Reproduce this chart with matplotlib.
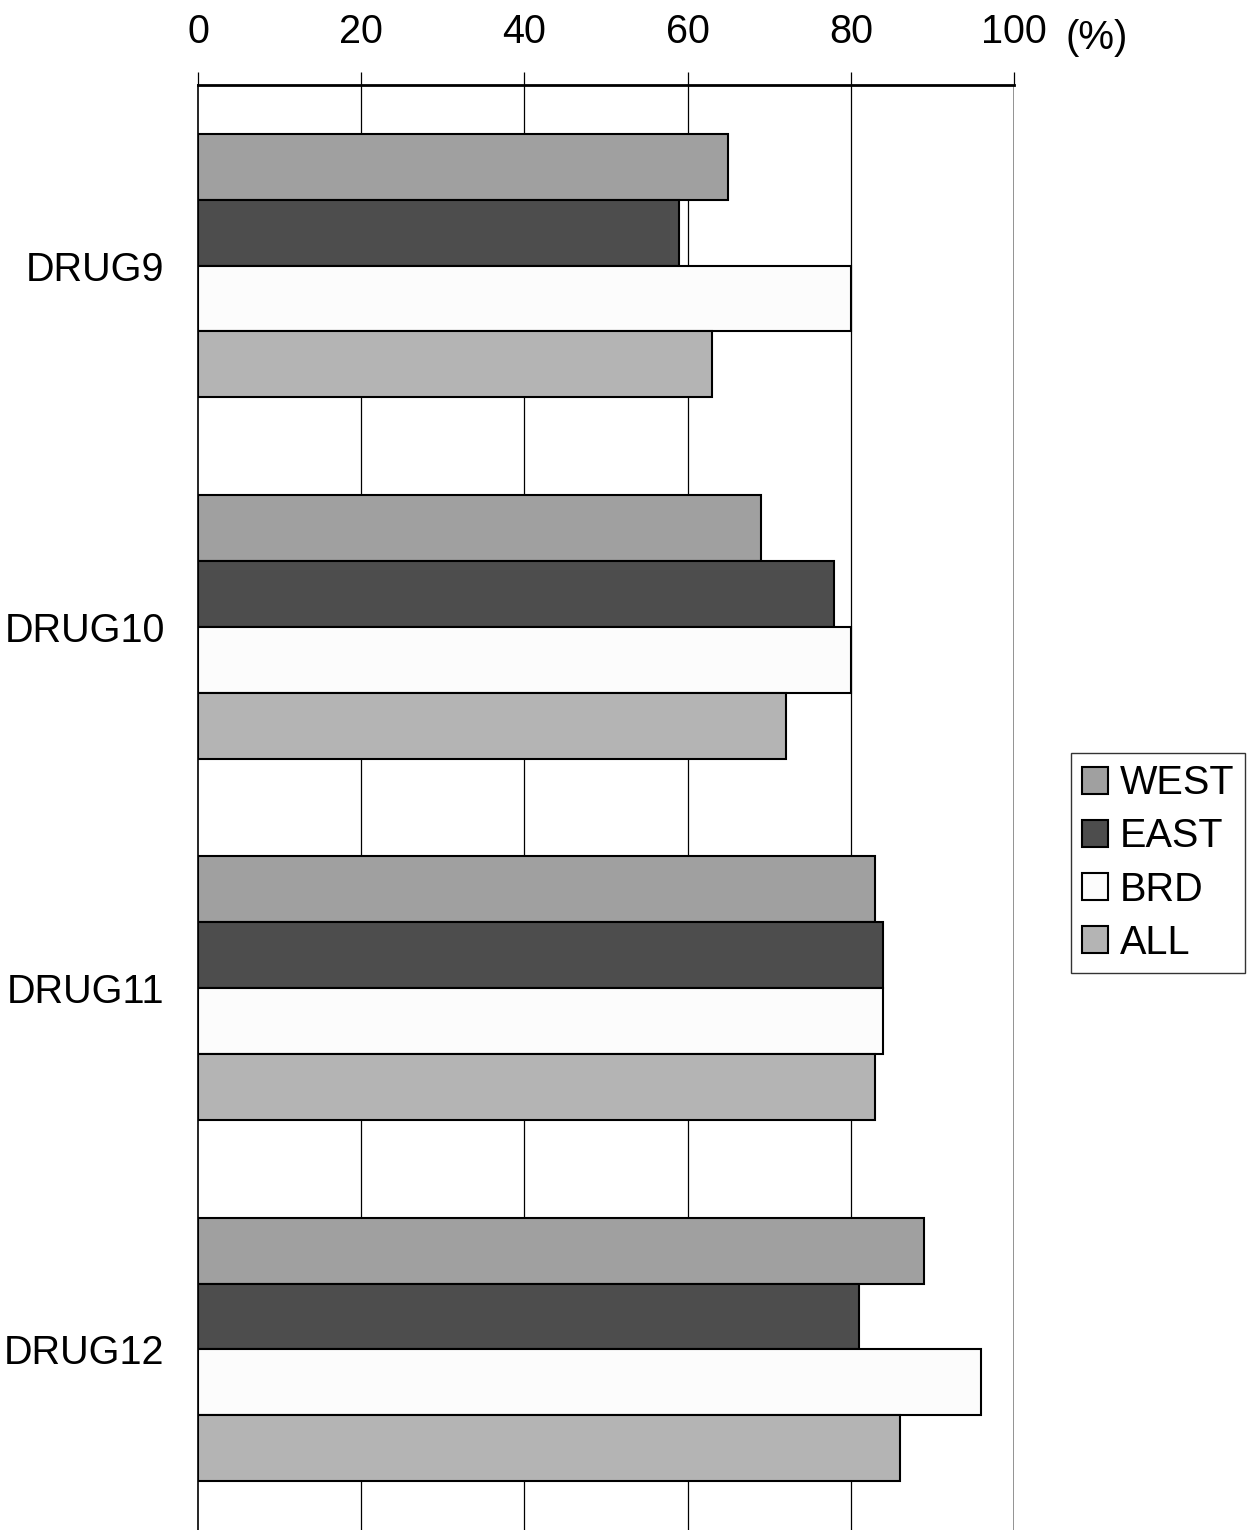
import numpy as np
import matplotlib
matplotlib.use("Agg")
import matplotlib.pyplot as plt

plt.rcParams['font.family'] = ['Liberation Sans', 'DejaVu Sans']

drugs = ["DRUG9", "DRUG10", "DRUG11", "DRUG12"]
series = ["WEST", "EAST", "BRD", "ALL"]
west = [65, 69, 83, 89]
east = [59, 78, 84, 81]
brd = [80, 80, 84, 96]
all_ = [63, 72, 83, 86]
colors = ["#a0a0a0", "#4d4d4d", "#fcfcfc", "#b4b4b4"]
xticks = [0, 20, 40, 60, 80, 100]

fig = plt.figure(figsize=(12.47, 15.30), dpi=100)
ax = fig.add_axes([198 / 1247, 0.0, (1014 - 198) / 1247, 1 - 85 / 1530])

y = np.arange(len(drugs))
bh = 66 / 362
values = [west, east, brd, all_]
for k, (name, vals, c) in enumerate(zip(series, values, colors)):
    ax.barh(y + (k - 1.5) * bh, vals, height=bh, color=c, edgecolor="black",
            linewidth=1.5, label=name, zorder=3)

ax.set_xlim(0, 100)
ax.set_ylim(3.5, -0.5)

# vertical gridlines
for t in xticks[1:-1]:
    ax.axvline(t, color="black", linewidth=0.9, zorder=1)
ax.axvline(100, color="#808080", linewidth=1.2, zorder=1)

ax.xaxis.tick_top()
ax.set_xticks(xticks)
ax.set_xticklabels([str(t) for t in xticks])
ax.tick_params(axis="x", length=9.5, width=0.9, pad=15, labelsize=28.5, direction="out")
ax.set_yticks(y)
ax.set_yticklabels(drugs)
ax.tick_params(axis="y", length=0, pad=24, labelsize=28.5)

for s in ["right", "bottom"]:
    ax.spines[s].set_visible(False)
ax.spines["top"].set_linewidth(2)
ax.spines["left"].set_linewidth(1.2)

fig.text(1066 / 1247, 1 - 38 / 1530, "(%)", fontsize=29, ha="left", va="center")

leg = fig.legend(loc="center", bbox_to_anchor=(1158 / 1247, 1 - 863 / 1530),
                 fontsize=28.5, frameon=True, fancybox=False, edgecolor="black",
                 handlelength=0.65, handleheight=0.65, handletextpad=0.3,
                 labelspacing=0.38, borderpad=0.28, borderaxespad=0)
leg.get_frame().set_linewidth(1.0)

fig.savefig("out.png", dpi=100)
